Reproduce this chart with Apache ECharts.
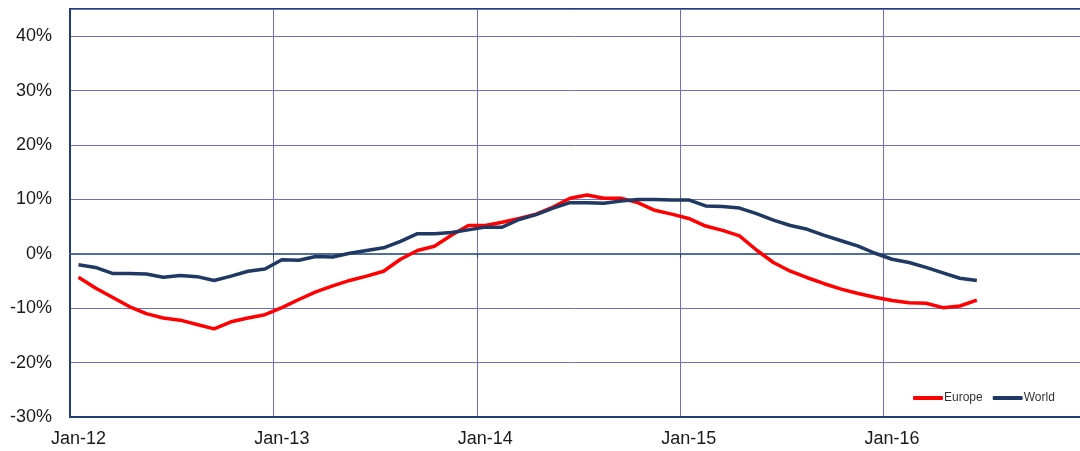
<!DOCTYPE html>
<html>
<head>
<meta charset="utf-8">
<script src="https://cdn.jsdelivr.net/npm/echarts@6/dist/echarts.min.js"></script>
<style>
html,body{margin:0;padding:0;background:#fff;}
#chart{width:1080px;height:451px;}
</style>
</head>
<body>
<div id="chart"></div>
<script>
// Category axis: monthly, Jan-12 .. Dec-16
var monthNames = ['Jan','Feb','Mar','Apr','May','Jun','Jul','Aug','Sep','Oct','Nov','Dec'];
var years = ['12','13','14','15','16'];
var categories = [];
years.forEach(function (y) { monthNames.forEach(function (m) { categories.push(m + '-' + y); }); });

// Year-on-year change, % (Jan-12 .. Jun-16)
var europe = [
  -4.3, -6.3, -8.0, -9.7, -11.0, -11.8, -12.2, -13.0, -13.8, -12.5, -11.8, -11.2,
  -9.9, -8.4, -7.0, -5.9, -4.9, -4.1, -3.2, -1.0, 0.6, 1.4, 3.4, 5.2,
  5.2, 5.8, 6.5, 7.3, 8.6, 10.2, 10.8, 10.2, 10.2, 9.4, 8.0, 7.3,
  6.5, 5.1, 4.3, 3.3, 0.7, -1.6, -3.2, -4.4, -5.5, -6.5, -7.3, -8.0,
  -8.6, -9.0, -9.1, -9.9, -9.6, -8.5
];
var world = [
  -2.0, -2.5, -3.6, -3.6, -3.7, -4.3, -4.0, -4.2, -4.9, -4.1, -3.2, -2.8,
  -1.1, -1.2, -0.5, -0.6, 0.1, 0.6, 1.1, 2.3, 3.7, 3.7, 3.9, 4.4,
  4.9, 4.9, 6.3, 7.2, 8.4, 9.4, 9.4, 9.3, 9.7, 10.0, 10.0, 9.9,
  9.9, 8.8, 8.7, 8.4, 7.4, 6.2, 5.2, 4.5, 3.4, 2.4, 1.4, 0.1,
  -1.0, -1.6, -2.5, -3.5, -4.5, -4.9
];
var yTicks = { min: -30, max: 45, step: 10 };

var chart = echarts.init(document.getElementById('chart'));
var font = 'Liberation Sans, Arial, sans-serif';
chart.setOption({
  animation: false,
  backgroundColor: '#ffffff',
  grid: {
    left: 70, top: 9, right: -7, bottom: 34,
    outerBoundsMode: 'none', containLabel: false,
    show: true, borderColor: '#1f3f6f', borderWidth: 2, backgroundColor: 'transparent'
  },
  legend: {
    left: 913, top: 392, padding: 0,
    icon: 'roundRect', itemWidth: 30, itemHeight: 4, itemGap: 10,
    textStyle: { fontFamily: font, fontSize: 12, color: '#333', padding: [0, 0, 0, -4] },
    data: ['Europe', 'World']
  },
  xAxis: [{
    type: 'category', data: categories, boundaryGap: true, position: 'bottom',
    axisLine: { onZero: false, lineStyle: { color: '#1f3f6f', width: 2 } },
    axisTick: { show: false, interval: 11 },
    axisLabel: { interval: 11, margin: 13, fontFamily: font, fontSize: 18, color: '#1a1a1a' },
    splitLine: { show: true, interval: 11, lineStyle: { color: '#6e6ebd', width: 1 } }
  }, {
    type: 'category', data: categories, boundaryGap: true, position: 'bottom',
    axisLine: { onZero: true, lineStyle: { color: '#4f6f95', width: 2 } },
    axisTick: { show: true, interval: 11, length: 4, lineStyle: { color: '#1f3f6f', width: 1 } },
    axisLabel: { show: false },
    splitLine: { show: false }
  }],
  yAxis: {
    type: 'value', min: yTicks.min, max: yTicks.max, interval: yTicks.step,
    axisLine: { show: true, lineStyle: { color: '#1f3f6f', width: 2 } },
    axisTick: { show: false },
    axisLabel: {
      margin: 18, fontFamily: font, fontSize: 18, color: '#1a1a1a',
      formatter: function (v) { return v > 40 ? '' : v + '%'; }
    },
    splitLine: { show: true, lineStyle: { color: '#6e6ebd', width: 1 } }
  },
  series: [{
    name: 'Europe', type: 'line', data: europe, xAxisIndex: 0,
    showSymbol: false, symbol: 'none',
    lineStyle: { color: '#ff0000', width: 3.5 }, itemStyle: { color: '#ff0000' }
  }, {
    name: 'World', type: 'line', data: world, xAxisIndex: 0,
    showSymbol: false, symbol: 'none',
    lineStyle: { color: '#1f3864', width: 3.5 }, itemStyle: { color: '#1f3864' }
  }]
});
</script>
</body>
</html>
